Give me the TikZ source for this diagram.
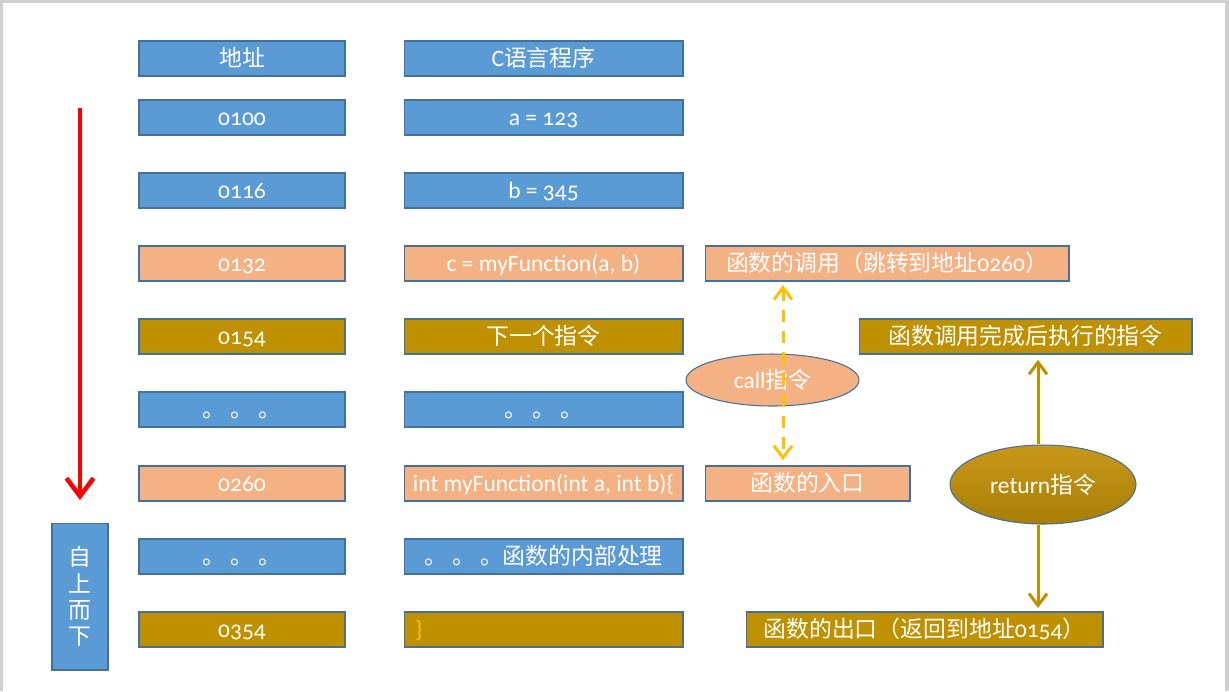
\documentclass[tikz,border=0pt]{standalone}
\usepackage{fontspec}
\setmainfont{Carlito}[Numbers=OldStyle, Scale=1.03]
\newfontfamily\cjk{Noto Sans CJK SC}
\usetikzlibrary{arrows.meta,shapes.geometric}
\definecolor{cellblue}{HTML}{5B9BD5}
\definecolor{cellpink}{HTML}{F4B183}
\definecolor{cellgold}{HTML}{BF9000}
\definecolor{cellline}{HTML}{41719C}
\definecolor{callyellow}{HTML}{FFC000}
\definecolor{slidegray}{HTML}{D0D0D0}
\definecolor{rettop}{HTML}{C9981A}
\definecolor{retmid}{HTML}{DCAB2A}
\definecolor{retbot}{HTML}{A87E05}

\begin{document}
\begin{tikzpicture}[x=0.02cm, y=-0.02cm,
  font=\fontsize{13}{15}\selectfont,
  cellbase/.style={draw=cellline, line width=0.6pt, text=white, inner sep=0pt},
  cell/.style={cellbase, minimum height=0.7cm, text height=11.5pt, text depth=2pt},
  addr/.style={cell, minimum width=4.12cm},
  code/.style={cell, minimum width=5.58cm},
  bluecell/.style={fill=cellblue},
  pinkcell/.style={fill=cellpink},
  goldcell/.style={fill=cellgold},
  op/.style={ellipse, cellbase},
  callarrow/.style={{Straight Barb[length=2.4mm, width=3.6mm]}-{Straight Barb[length=2.4mm, width=3.6mm]}, draw=callyellow, line width=1.7pt, dash pattern=on 7pt off 5pt},
  retarrow/.style={-{Straight Barb[length=2.4mm, width=3.6mm]}, draw=cellgold, line width=1.7pt},
  downarrow/.style={-{Straight Barb[length=3.6mm, width=5.4mm]}, draw=red, line width=2.6pt}
]

% slide frame
\fill[slidegray] (0,0) rectangle (1229,691);
\fill[white] (3,3) rectangle (1225,691);

% address column
\node[addr, bluecell] (ahead) at (242,58.5) {{\cjk 地址}};
\node[addr, bluecell] (a1) at (242,117.5) {0100};
\node[addr, bluecell] (a2) at (242,190.5) {0116};
\node[addr, pinkcell] (a3) at (242,263.5) {0132};
\node[addr, goldcell] (a4) at (242,336.5) {0154};
\node[addr, bluecell] (a5) at (242,409.5) {{\cjk 。 。 。}};
\node[addr, pinkcell] (a6) at (242,483.5) {0260};
\node[addr, bluecell] (a7) at (242,556.5) {{\cjk 。 。 。}};
\node[addr, goldcell] (a8) at (242,629.5) {0354};

% code column
\node[code, bluecell] (chead) at (543.5,58.5) {C{\cjk 语言程序}};
\node[code, bluecell] (c1) at (543.5,117.5) {a = 123};
\node[code, bluecell] (c2) at (543.5,190.5) {b = 345};
\node[code, pinkcell] (c3) at (543.5,263.5) {c = myFunction(a, b)};
\node[code, goldcell] (c4) at (543.5,336.5) {{\cjk 下一个指令}};
\node[code, bluecell] (c5) at (543.5,409.5) {{\cjk 。 。 。}};
\node[code, pinkcell] (c6) at (543.5,483.5) {int myFunction(int a, int b)\{};
\node[code, bluecell] (c7) at (543.5,556.5) {{\cjk 。 。 。函数的内部处理}};
\node[code, goldcell, text=callyellow, align=left, text width=5.14cm] (c8) at (543.5,629.5) {\}};

% call / return notes
\node[cell, pinkcell, minimum width=7.28cm] (callbox) at (887,263.5) {{\cjk 函数的调用（跳转到地址}0260{\cjk ）}};
\node[cell, goldcell, minimum width=6.66cm] (after) at (1025.5,336.5) {{\cjk 函数调用完成后执行的指令}};
\node[op, fill=cellpink, minimum width=3.46cm, minimum height=1.04cm] (callop) at (772.5,380) {call{\cjk 指令}};
\node[cell, pinkcell, minimum width=4.1cm] (entry) at (807.5,483.5) {{\cjk 函数的入口}};
\node[op, top color=rettop, middle color=retmid, bottom color=retbot, minimum width=3.72cm, minimum height=1.58cm] (ret) at (1043,484.5) {return{\cjk 指令}};
\node[cell, goldcell, minimum width=7.14cm] (exit) at (924.5,629.5) {{\cjk 函数的出口（返回到地址}0154{\cjk ）}};

% direction
\node[cellbase, bluecell, minimum width=1.12cm, minimum height=2.94cm, align=center, font=\fontsize{13}{15}\selectfont] (dir) at (80,596.5) {{\cjk 自}\\{\cjk 上}\\{\cjk 而}\\{\cjk 下}};
\coordinate (redtop) at (80,108);
\coordinate (redend) at (80,500);
\coordinate (cx) at (783,0);
\coordinate (rx) at (1038,0);

\draw[downarrow] (redtop) -- (redend);
\draw[callarrow] ([yshift=-2pt]callbox.south -| cx) -- ([yshift=3pt]entry.north -| cx);
\draw[retarrow] (ret.north -| rx) -- ([yshift=-3pt]after.south -| rx);
\draw[retarrow] (ret.south -| rx) -- ([yshift=2pt]exit.north -| rx);

\end{tikzpicture}
\end{document}
